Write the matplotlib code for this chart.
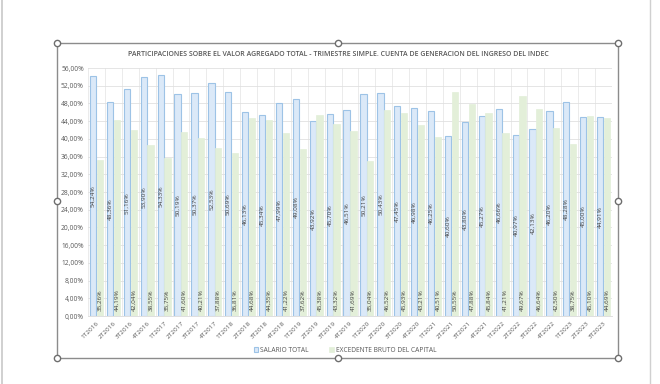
import matplotlib
matplotlib.use("Agg")
import matplotlib.pyplot as plt
from matplotlib.lines import Line2D
from matplotlib.patches import Rectangle
import numpy as np

plt.rcParams['font.family'] = ['Open Sans', 'DejaVu Sans']

categories = ["1T2016", "2T2016", "3T2016", "4T2016",
              "1T2017", "2T2017", "3T2017", "4T2017",
              "1T2018", "2T2018", "3T2018", "4T2018",
              "1T2019", "2T2019", "3T2019", "4T2019",
              "1T2020", "2T2020", "3T2020", "4T2020",
              "1T2021", "2T2021", "3T2021", "4T2021",
              "1T2022", "2T2022", "3T2022", "4T2022",
              "1T2023", "2T2023", "3T2023"]
salario = [54.24, 48.36, 51.16, 53.90, 54.33, 50.19, 50.37, 52.53, 50.69, 46.13,
           45.34, 47.99, 49.08, 43.92, 45.70, 46.51, 50.21, 50.43, 47.45, 46.98,
           46.25, 40.60, 43.80, 45.27, 46.66, 40.97, 42.13, 46.20, 48.28, 45.00, 44.91]
excedente = [35.26, 44.19, 42.04, 38.55, 35.75, 41.60, 40.21, 37.88, 36.81, 44.68,
             44.35, 41.22, 37.62, 45.38, 43.32, 41.69, 35.04, 46.52, 45.93, 43.21,
             40.51, 50.55, 47.88, 45.84, 41.21, 49.67, 46.64, 42.50, 38.75, 45.10, 44.69]
yticks = list(range(0, 57, 4))

W, H = 660, 384
fig = plt.figure(figsize=(6.6, 3.84), dpi=100)
fig.patch.set_facecolor('white')

def fx(x): return x / W
def fy(y): return 1 - y / H

# screenshot frame lines
fig.add_artist(Line2D([fx(2), fx(2)], [0, 1], color='#c8c8c8', lw=1.2))
fig.add_artist(Line2D([fx(650), fx(650)], [0, 1], color='#d0d0d0', lw=1.0))
# chart area frame with handles
x0, x1, y0, y1 = 57, 618, 43, 358
fig.add_artist(Rectangle((fx(x0), fy(y1)), fx(x1 - x0), (y1 - y0) / H,
                         fill=False, edgecolor='#8c8c8c', lw=1.0))
for hx in (x0, (x0 + x1) / 2, x1):
    for hy in (y0, (y0 + y1) / 2, y1):
        if hx == (x0 + x1) / 2 and hy == (y0 + y1) / 2:
            continue
        fig.add_artist(Line2D([fx(hx)], [fy(hy)], marker='o', markersize=4.5,
                              markerfacecolor='white', markeredgecolor='#6e6e6e',
                              markeredgewidth=1.0, linestyle='none'))

ax = fig.add_axes([fx(88), fy(316), fx(612 - 88), (316 - 68) / H])
n = len(categories)
x = np.arange(n)
w = 0.37
off = 0.2
ax.bar(x - off, salario, width=w, color='#dbe9f8', edgecolor='#9dc3e6', linewidth=0.8,
       label='SALARIO TOTAL', zorder=2)
ax.bar(x + off, excedente, width=w, color='#e3efd9', edgecolor='#e3efd9', linewidth=0.5,
       label='EXCEDENTE BRUTO DEL CAPITAL', zorder=2)

for i in range(n):
    ax.text(x[i] - off, salario[i] / 2, f"{salario[i]:.2f}%".replace('.', ','),
            rotation=90, ha='center', va='center', fontsize=4.6, color='#404040', zorder=3)
    ax.text(x[i] + off, 1.2, f"{excedente[i]:.2f}%".replace('.', ','),
            rotation=90, ha='center', va='bottom', fontsize=4.6, color='#404040', zorder=3)

ax.set_xlim(-0.5, n - 0.5)
ax.set_ylim(0, 56)
ax.set_yticks(yticks)
ax.set_yticklabels([f"{v:.2f}%".replace('.', ',') for v in yticks], fontsize=4.8, color='#595959')
ax.set_xticks(x)
ax.set_xticklabels(categories, rotation=45, ha='right', rotation_mode='anchor',
                   fontsize=4.6, color='#595959')
ax.set_xticks(np.arange(-0.5, n, 1), minor=True)
ax.grid(axis='y', which='major', color='#e0e0e0', lw=0.6, zorder=0)
ax.grid(axis='x', which='minor', color='#e8e8e8', lw=0.6, zorder=0)
ax.tick_params(axis='both', which='both', length=0, pad=3)
for s in ('top', 'right', 'left'):
    ax.spines[s].set_visible(False)
ax.spines['bottom'].set_color('#d9d9d9')
ax.spines['bottom'].set_linewidth(0.6)

fig.text(fx(338), fy(55), "PARTICIPACIONES SOBRE EL VALOR AGREGADO TOTAL - TRIMESTRE SIMPLE. CUENTA DE GENERACION DEL INGRESO DEL INDEC",
         ha='center', va='center', fontsize=5.0, color='#595959', fontweight='semibold')

leg = fig.legend(loc='center', bbox_to_anchor=(fx(345), fy(350)), ncol=2, frameon=False,
                 fontsize=4.8, handlelength=0.7, handleheight=0.7, columnspacing=3.0,
                 handletextpad=0.3)
for t in leg.get_texts():
    t.set_color('#595959')

fig.savefig("out.png", dpi=100, facecolor='white')
